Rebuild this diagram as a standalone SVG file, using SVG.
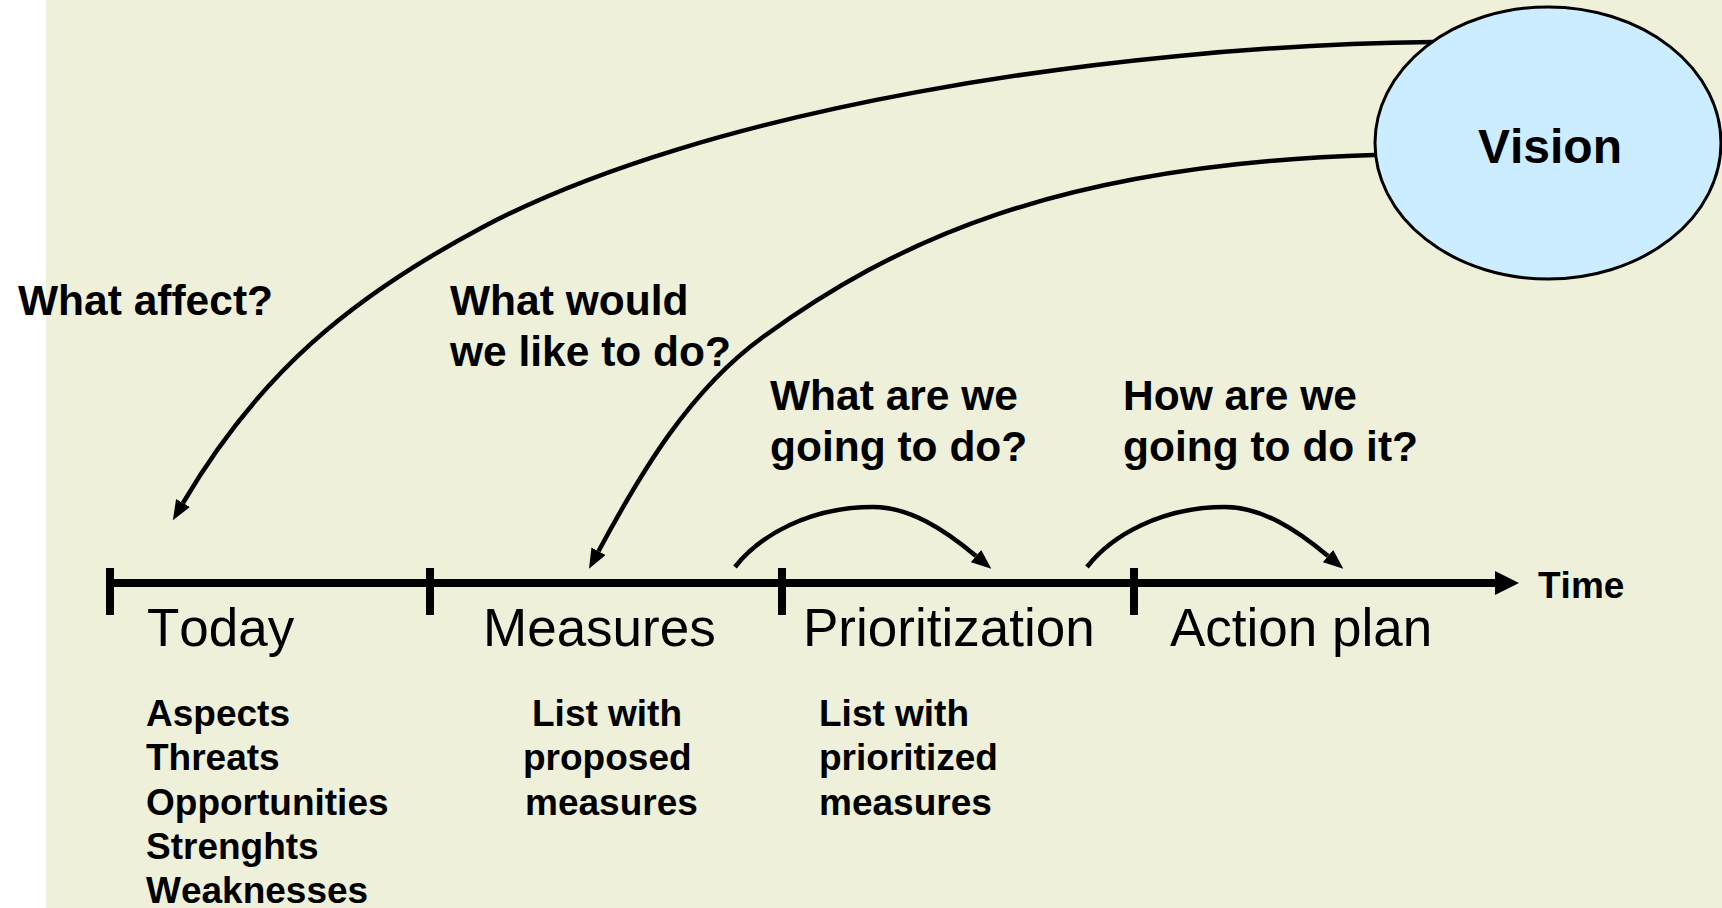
<svg xmlns="http://www.w3.org/2000/svg" width="1722" height="908" viewBox="0 0 1722 908">
<style>
text{font-family:"Liberation Sans",Arial,sans-serif;fill:#000;font-kerning:none}
.bg{fill:#EEF0DA}
.cur{fill:none;stroke:#000;stroke-width:4.5;stroke-linecap:butt}
.axis{fill:none;stroke:#000;stroke-width:8}
.tick{stroke:#000;stroke-width:8}
.q{font-weight:bold;font-size:42.5px}
.stage{font-size:53px}
.lst{font-weight:bold;font-size:37px}
.vis{font-weight:bold;font-size:48px}
</style>
<defs>
<marker id="ah" markerUnits="userSpaceOnUse" viewBox="0 0 20 16" refX="0" refY="8" markerWidth="20" markerHeight="16" orient="auto">
<path d="M0,0 L20,8 L0,16 z" fill="#000"/>
</marker>
<marker id="axh" markerUnits="userSpaceOnUse" viewBox="0 0 24 24" refX="0" refY="12" markerWidth="24" markerHeight="24" orient="auto">
<path d="M0,0 L24,12 L0,24 z" fill="#000"/>
</marker>
</defs>
<rect x="0" y="0" width="1722" height="908" fill="#fff"/>
<rect class="bg" x="46" y="0" width="1676" height="908"/>

<g id="connectors">
<path class="cur" marker-end="url(#ah)" d="M1445,42 L1433,42 C1103,46 703,110 483,227 C350.6,297.4 259,373.7 183,503"/>
<path class="cur" marker-end="url(#ah)" d="M1385,155 L1374,155 C1054,164.6 892.6,243.2 763,337 C690.1,389.7 641.1,472 598.5,551.2"/>
<path class="cur" marker-end="url(#ah)" d="M735,567 C760,535 810,507 873,507 C910,507 945,530 976,556"/>
<path class="cur" marker-end="url(#ah)" d="M1087,567 C1112,535 1162,507 1225,507 C1262,507 1297,530 1328,556"/>
</g>

<g id="timeline">
<path class="axis" marker-end="url(#axh)" d="M110,583 L1495,583"/>
<line class="tick" x1="110" y1="568" x2="110" y2="615"/>
<line class="tick" x1="430" y1="568" x2="430" y2="615"/>
<line class="tick" x1="782" y1="568" x2="782" y2="615"/>
<line class="tick" x1="1134" y1="568" x2="1134" y2="615"/>
<text class="lst" x="1538" y="598">Time</text>
</g>

<g id="vision">
<ellipse cx="1548" cy="143" rx="173" ry="136" fill="#CCECFF" stroke="#000" stroke-width="3"/>
<text class="vis" x="1550" y="163" text-anchor="middle">Vision</text>
</g>

<g id="q-affect">
<text class="q" x="18" y="315">What affect?</text>
</g>
<g id="q-would">
<text class="q" x="450" y="315">What would</text>
<text class="q" x="450" y="366">we like to do?</text>
</g>
<g id="q-what">
<text class="q" x="770" y="410">What are we</text>
<text class="q" x="770" y="461">going to do?</text>
</g>
<g id="q-how">
<text class="q" x="1123" y="410">How are we</text>
<text class="q" x="1123" y="461">going to do it?</text>
</g>

<g id="today">
<text class="stage" x="147" y="646">Today</text>
<text class="lst" x="146" y="726">Aspects</text>
<text class="lst" x="146" y="770">Threats</text>
<text class="lst" x="146" y="815">Opportunities</text>
<text class="lst" x="146" y="859">Strenghts</text>
<text class="lst" x="146" y="903">Weaknesses</text>
</g>
<g id="measures">
<text class="stage" x="483" y="646">Measures</text>
<text class="lst" x="532" y="726">List with</text>
<text class="lst" x="523" y="770">proposed</text>
<text class="lst" x="525" y="815">measures</text>
</g>
<g id="prioritization">
<text class="stage" x="803" y="646">Prioritization</text>
<text class="lst" x="819" y="726">List with</text>
<text class="lst" x="819" y="770">prioritized</text>
<text class="lst" x="819" y="815">measures</text>
</g>
<g id="actionplan">
<text class="stage" x="1170" y="646">Action plan</text>
</g>
</svg>
